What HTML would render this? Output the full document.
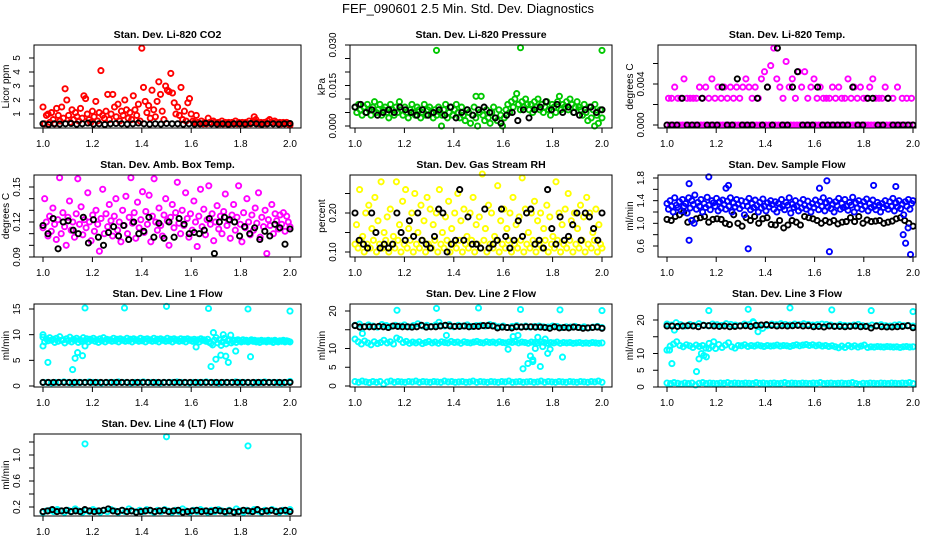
<!DOCTYPE html>
<html><head><meta charset="utf-8">
<style>
html,body{margin:0;padding:0;background:#fff;}
svg{display:block;font-family:"Liberation Sans",Arial,sans-serif;}
</style></head>
<body>
<svg id="chart" width="936" height="540" viewBox="0 0 936 540">
<rect x="0" y="0" width="936" height="540" fill="#fff"/>
<text x="468" y="13" text-anchor="middle" font-size="13">FEF_090601  2.5 Min. Std. Dev. Diagnostics</text>
</svg>
<script>
// ---- shared x axis ----
const xTicks = [1.0,1.2,1.4,1.6,1.8,2.0];
const xTickLabels = ["1.0","1.2","1.4","1.6","1.8","2.0"];

// ---- CO2 ----
const co2Red = [1.5,0.3,0.9,1.0,0.4,1.1,0.6,0.3,1.4,0.9,0.5,1.5,0.7,2.8,2.0,0.9,0.4,1.3,0.6,1.1,0.8,0.5,1.4,0.7,2.3,2.1,1.0,0.6,0.4,1.2,0.8,1.9,0.5,1.1,4.1,0.9,0.7,1.2,2.4,0.6,1.0,2.4,1.5,0.8,1.7,0.5,1.2,0.9,2.0,1.3,0.7,1.1,0.6,2.3,1.3,0.9,1.7,0.5,5.7,2.9,1.9,1.1,1.6,0.7,2.7,1.3,0.8,1.9,3.3,2.4,1.2,0.6,3.0,2.7,2.6,3.9,2.5,1.8,1.0,1.5,0.9,2.9,0.6,1.2,0.5,1.8,2.1,1.0,0.5,0.4,0.9,0.4,0.3,0.5,0.3,0.4,0.3,0.7,0.4,0.3,0.5,0.4,0.3,0.4,0.3,0.5,0.3,0.4,0.3,0.4,0.3,0.4,0.3,0.5,0.3,0.4,0.3,0.4,0.3,0.4,0.3,0.5,0.3,0.4,0.8,0.6,0.4,0.3,0.4,0.3,0.4,0.3,0.5,0.6,0.4,0.3,0.5,0.4,0.3,0.4,0.3,0.4,0.3,0.4,0.3,0.2];
const co2Black = [0.3,0.25,0.3,0.28,0.3,0.32,0.27,0.3,0.35,0.28,0.3,0.25,0.3,0.32,0.3,0.28,0.3,0.35,0.3,0.27,0.3,0.28,0.32,0.3,0.3,0.27,0.3,0.28,0.3,0.33,0.3,0.28,0.3,0.27,0.3,0.3,0.28,0.32,0.3,0.27,0.3,0.3,0.28,0.3,0.32];
const co2Ticks = [1,2,3,4,5];
const co2TickLabels = ["1","2","3","4","5"];

// ---- Pressure ----
const pressGreen = [.007,.005,.008,.006,.004,.007,.005,.008,.006,.004,.007,.009,.005,.006,.008,.004,.006,.007,.005,.003,.008,.006,.004,.007,.005,.009,.006,.004,.007,.005,.003,.006,.008,.005,.004,.007,.006,.003,.005,.008,.004,.006,.007,.005,.003,.006,.004,.007,.005,.004,.006,.008,.003,.005,.007,.004,.006,.008,.005,.003,.007,.004,.002,.006,.005,.001,.004,.007,.003,.000,.005,.011,.004,.002,.006,.003,.001,.005,.007,.003,.002,.006,.004,.000,.003,.006,.008,.005,.009,.007,.010,.012,.008,.006,.009,.007,.010,.008,.006,.008,.005,.009,.007,.010,.006,.008,.005,.007,.009,.006,.004,.008,.007,.005,.009,.011,.006,.008,.007,.009,.006,.010,.008,.005,.007,.009,.007,.006,.004,.008,.005,.002,.007,.003,.006,.008,.004,.001,.006,.003];
const pressOutX = [1.33,1.67,2.0,1.35,1.49,1.97];
const pressOutY = [0.028,0.029,0.028,0.000,0.011,0.000];
const pressBlack = [.007,.008,.005,.006,.004,.005,.006,.005,.007,.006,.005,.004,.006,.004,.005,.006,.004,.007,.003,.005,.006,.004,.006,.007,.005,.003,.001,.004,.005,.002,.006,.003,.006,.007,.009,.006,.008,.005,.007,.005,.004,.006,.007,.005,.006];
const pressTicks = [0,0.005,0.010,0.015,0.020,0.025,0.030];
const pressTickLabels = ["0.000","","","0.015","","","0.030"];

// ---- Li-820 Temp ----
const tempMag = [0,.0026,0,.0026,0,.0037,0,.0026,0,.0026,0,.0045,0,.0026,0,.0026,0,.0026,0,.0026,0,.0037,0,.0026,0,.0037,0,.0026,0,.0045,0,.0026,0,.0037,0,.0026,0,.0037,0,.0026,0,.0037,0,.0026,0,.0037,0,.0026,0,.0037,0,.0045,0,.0037,0,.0026,0,.0037,0,.0026,0,.0045,0,.0052,0,.0037,0,.0058,0,.0075,0,.0045,0,.0037,0,.0026,0,.0062,0,.0037,0,.0045,0,.0026,0,.0052,0,.0037,0,.0052,0,.0026,0,.0037,0,.0045,0,.0026,0,.0037,0,.0026,0,.0026,0,.0026,0,.0037,0,.0026,0,.0037,0,.0026,0,.0026,0,.0045,0,.0026,0,.0037,0,.0026,0,.0037,0,.0026,0,.0026,0,.0037,0,.0045,0,.0026,0,.0026,0,.0026,0,.0037,0,.0026,0,0,.0026,0,0,.0037,0,0,.0026,0,0,.0026,0,0,.0026,0];
const tempBlack = [0,0,0,.0026,0,0,0,.0026,0,0,0,.0037,0,0,.0045,0,0,0,.0026,0,.0037,0,.0075,0,0,.0037,.0052,0,0,0,.0037,0,0,0,0,0,0,.0037,0,0,.0026,.0026,0,0,.0026,0,0,0,0,0];
const tempTicks = [0,0.002,0.004,0.006];
const tempTickLabels = ["0.000","","0.004",""];

// ---- Amb box temp ----
const ambMag = [.115,.14,.12,.108,.125,.112,.132,.118,.105,.122,.158,.11,.128,.116,.1,.124,.138,.113,.12,.107,.127,.157,.118,.133,.109,.122,.115,.145,.12,.104,.126,.112,.13,.118,.095,.123,.148,.11,.127,.116,.135,.121,.108,.125,.14,.113,.12,.103,.13,.117,.142,.11,.124,.158,.119,.128,.106,.137,.115,.122,.146,.111,.129,.118,.143,.103,.125,.157,.12,.113,.132,.117,.108,.126,.14,.121,.1,.124,.135,.115,.128,.154,.119,.11,.13,.117,.145,.123,.107,.127,.113,.138,.12,.099,.125,.148,.116,.131,.109,.122,.151,.118,.127,.104,.12,.134,.114,.125,.11,.129,.144,.117,.121,.106,.126,.135,.113,.124,.151,.118,.103,.128,.115,.14,.12,.109,.126,.113,.132,.119,.145,.107,.124,.116,.13,.093,.122,.117,.135,.11,.127,.121,.114,.126,.118,.128,.112,.125,.12,.116];
const ambBlack = [.117,.11,.123,.097,.12,.121,.113,.11,.124,.102,.122,.107,.1,.111,.116,.108,.117,.105,.12,.11,.112,.124,.107,.119,.106,.12,.107,.123,.118,.11,.111,.11,.113,.123,.093,.12,.124,.122,.12,.108,.116,.11,.115,.105,.112,.108,.118,.115,.101,.114];
const ambTicks = [0.09,0.10,0.11,0.12,0.13,0.14,0.15];
const ambTickLabels = ["0.09","","","0.12","","","0.15"];

// ---- Gas stream RH ----
const rhYellow = [.12,.17,.11,.26,.13,.14,.1,.2,.12,.22,.11,.16,.13,.24,.1,.18,.12,.28,.11,.15,.13,.19,.1,.21,.12,.14,.11,.28,.13,.17,.1,.23,.12,.26,.11,.16,.13,.2,.1,.25,.12,.15,.11,.22,.13,.18,.1,.24,.12,.21,.11,.17,.13,.2,.1,.26,.12,.15,.11,.19,.13,.23,.1,.16,.12,.2,.11,.25,.13,.18,.1,.21,.12,.14,.11,.2,.13,.24,.1,.17,.12,.19,.11,.3,.13,.16,.1,.22,.12,.2,.11,.14,.13,.27,.1,.18,.12,.21,.11,.16,.13,.2,.1,.24,.12,.17,.11,.19,.13,.29,.1,.21,.12,.15,.11,.2,.13,.23,.1,.18,.12,.2,.11,.16,.13,.22,.1,.19,.12,.14,.11,.28,.13,.2,.1,.17,.12,.21,.11,.25,.13,.18,.1,.2,.12,.16,.11,.22,.13,.19,.1,.24,.12,.2,.11,.15,.13,.21,.1,.17,.12,.11];
const rhBlack = [.2,.13,.12,.11,.2,.15,.11,.12,.11,.12,.2,.15,.13,.18,.14,.2,.13,.12,.11,.14,.21,.2,.1,.12,.13,.26,.13,.19,.12,.12,.11,.21,.11,.12,.13,.21,.14,.11,.13,.18,.14,.2,.21,.12,.13,.11,.26,.16,.12,.19,.13,.14,.17,.2,.13,.2,.19,.16,.13,.2];
const rhTicks = [0.10,0.15,0.20,0.25];
const rhTickLabels = ["0.10","","0.20",""];

// ---- Sample flow ----
const sampleBlue = [1.35,1.25,1.4,1.3,1.2,1.45,1.32,1.28,1.38,1.22,1.42,1.3,1.35,1.18,1.45,1.27,1.4,1.33,1.5,1.25,1.37,1.3,1.42,1.2,1.35,1.28,1.46,1.32,1.24,1.4,1.36,1.3,1.44,1.22,1.38,1.27,1.41,1.33,1.25,1.39,1.3,1.45,1.2,1.36,1.29,1.42,1.34,1.26,1.4,1.31,1.15,1.38,1.3,1.44,1.24,1.35,1.28,1.41,1.32,1.2,1.37,1.27,1.43,1.3,1.22,1.36,1.29,1.4,1.33,1.25,1.38,1.2,1.35,1.28,1.42,1.3,1.24,1.37,1.32,1.45,1.18,1.34,1.28,1.4,1.3,1.22,1.36,1.27,1.42,1.32,1.25,1.39,1.3,1.2,1.35,1.28,1.41,1.33,1.24,1.38,1.3,1.45,1.22,1.36,1.29,1.4,1.26,1.34,1.2,1.38,1.31,1.44,1.25,1.35,1.28,1.42,1.3,1.23,1.37,1.32,1.46,1.2,1.36,1.27,1.4,1.33,1.25,1.38,1.3,1.43,1.22,1.35,1.28,1.41,1.3,1.24,1.37,1.32,1.2,1.35,1.28,1.4,1.31,1.25,1.38,1.3,1.44,1.22,1.36,1.29,1.4,1.26,1.34,1.15,1.38,1.3,1.42,1.25,1.35,1.4];
const sampleOutX = [1.09,1.09,1.1,1.17,1.24,1.25,1.33,1.62,1.65,1.66,1.84,1.93,1.96,1.97,1.98,1.99,1.11];
const sampleOutY = [1.7,0.7,1.05,1.82,1.62,1.67,0.55,1.62,1.75,0.5,1.67,1.65,0.8,0.65,0.92,0.45,1.0];
const sampleBlack = [1.07,1.05,1.12,1.15,1.2,1.02,1.05,1.08,1.1,1.12,1.02,1.07,1.08,1.07,1.0,0.98,1.15,1.0,0.95,1.1,1.05,1.12,1.0,1.08,1.1,0.98,0.97,1.05,0.92,0.97,1.05,1.02,0.97,1.12,1.1,1.08,1.05,1.0,1.05,1.02,1.05,0.99,1.02,1.03,1.1,1.03,1.12,1.0,1.06,1.03,1.04,1.05,1.0,1.02,1.04,1.08,1.1,1.05,1.0,0.95];
const sampleTicks = [0.6,0.8,1.0,1.2,1.4,1.6,1.8];
const sampleTickLabels = ["0.6","","1.0","","1.4","","1.8"];

// ---- Line 1 ----
const line1Main = [9.5,8.6,9.2,8.8,9.4,8.9,9.1,8.5,9.3,8.7,9.6,8.9,9.0,8.4,9.2,8.8,9.5,8.6,9.1,8.9,9.3,8.5,9.0,8.7,9.4,8.8,9.2,8.6,9.1,8.9,9.3,8.7,9.0,8.5,9.2,8.8,9.4,8.6,9.1,8.9,9.0,8.7,9.3,8.8,9.1,8.6,9.2,8.9,9.0,8.7,9.3,8.8,9.1,8.6,9.2,8.9,9.0,8.7,9.3,8.8,9.1,8.6,9.2,8.9,9.0,8.7,9.3,8.8,9.1,8.6,9.2,8.9,9.0,8.7,9.3,8.8,9.1,8.6,9.2,8.9,9.0,8.7,9.2,8.8,9.1,8.6,9.2,8.9,9.0,8.7,9.1,8.8,9.0,8.6,9.2,8.9,9.0,8.7,9.1,8.5,8.3,8.0,8.9,9.4,8.4,9.0,7.9,8.6,9.3,8.2,8.8,9.0,8.4,8.7,8.9,8.5,9.0,8.8,8.6,9.0,8.7,8.9,8.6,8.8,9.0,8.7,8.9,8.6,8.8,8.5,8.9,8.7,8.8,8.6,8.9,8.7,8.8,8.5,8.9,8.7,8.6,8.8,8.7,8.9,8.6,8.8,8.7,8.6];
const line1Low = [0.7,0.7,0.6,0.7,0.7,0.8,0.7,0.6,0.7,0.7,0.7,0.8,0.7,0.7,0.6,0.7,0.7,0.7,0.8,0.7,0.7,0.6,0.7,0.7,0.8,0.7,0.7,0.7,0.6,0.7,0.7,0.7,0.8,0.7,0.7,0.6,0.7,0.7,0.7,0.8,0.7,0.7,0.6,0.7,0.7,0.7,0.8,0.7,0.7,0.7,0.6,0.7,0.7,0.8,0.7,0.7,0.7,0.6,0.7,0.9];
const line1OutX = [1.0,1.0,1.02,1.12,1.13,1.14,1.16,1.17,1.17,1.33,1.5,1.67,1.83,2.0,1.68,1.7,1.72,1.74,1.75,1.84,1.62,1.78,1.73,1.76,1.69];
const line1OutY = [10,7.8,4.6,3.2,5.4,6.5,5.9,15.2,7.8,15.2,15.5,15.1,15,14.6,3.8,5.2,6,5.8,4.6,5.7,7.6,6.8,10,9.9,10.4];
const line1Black = [0.7,0.7,0.7,0.7,0.7,0.7,0.7,0.7,0.7,0.7,0.7,0.7,0.7,0.7,0.7,0.7,0.7,0.7,0.7,0.7,0.7,0.7,0.7,0.7,0.7,0.7,0.7,0.7,0.7,0.7,0.7,0.7,0.7,0.7,0.7,0.7,0.7,0.7,0.7,0.7,0.7,0.7,0.7,0.7,0.7,0.7,0.7,0.7];
const line1Ticks = [0,5,10,15];
const line1TickLabels = ["0","5","10","15"];

// ---- Line 2 ----
const line2Top = [16.2,16.5,15.8,16.3,16.0,15.7,16.4,16.1,15.9,16.2,16.0,16.3,15.8,16.1,16.6,16.0,16.2,15.9,16.3,16.1,16.0,16.4,15.8,16.2,16.0,16.3,15.9,16.1,16.2,16.0,16.4,16.1,15.8,16.0,15.6,15.9,16.1,15.8,16.0,15.7,15.9,16.0,15.8,15.7,16.0,15.9,15.6,15.8,15.7,15.9,15.6,15.8,15.5,15.7,15.9,15.6];
const line2Mid = [12.5,11.8,11.2,12.0,11.5,11.0,11.8,11.3,11.6,12.2,11.5,11.8,11.2,12.8,12.4,11.6,11.9,11.4,11.7,11.5,11.8,11.3,11.6,11.9,11.5,11.7,11.4,11.8,11.6,11.5,11.9,11.6,11.7,11.4,11.8,11.6,11.5,11.7,11.9,11.6,11.5,11.8,11.6,11.7,11.5,11.8,11.6,11.5,11.7,11.6,11.8,11.5,11.7,11.6,11.4,11.7,11.6,11.5,11.7,11.6,11.4,11.6,11.5,11.7,11.4,11.6,11.5,11.6,11.4,11.5,11.6,11.4,11.5,11.4,11.6,11.5,11.4,11.5];
const line2Low = [1.2,1.0,1.3,1.1,0.9,1.2,1.0,1.2,0.5,1.1,1.3,1.0,1.2,1.1,1.0,1.2,1.1,1.3,1.0,1.2,1.1,1.0,1.2,1.1,1.0,1.3,1.1,1.2,1.0,1.1,1.2,1.0,1.1,1.3,1.0,1.2,1.1,1.0,1.2,1.1,1.0,1.2,1.1,1.3,1.0,1.1,1.2,1.0,1.1,1.2,1.0,1.1,1.3,1.0,1.2,1.1,1.0,1.2,1.1,1.0,1.2,1.1,1.0,1.2,1.1,1.0,1.2,1.1,1.3,1.0];
const line2OutX = [1.17,1.33,1.5,1.67,1.83,2.0,1.03,1.34,1.37,1.62,1.64,1.68,1.7,1.71,1.72,1.73,1.74,1.75,1.76,1.77,1.78,1.84,1.66,1.72,1.79];
const line2OutY = [20.2,20.7,20.8,20.4,20.3,20.1,14,17,13.5,9.8,13.2,4.6,6,8,7,10,13,5.2,10.5,12.5,8.7,7.7,13.5,6.5,9.8];
const line2Black = [16.1,15.7,15.8,15.8,15.8,15.9,15.8,15.6,16.0,15.9,15.8,15.8,15.7,15.8,16.2,15.7,15.8,15.8,16.0,16.2,16.0,15.9,15.9,16.0,15.8,15.9,15.9,16.1,16.1,16.0,15.5,15.7,15.6,15.5,15.8,15.7,15.8,15.8,15.7,15.7,15.6,15.4,15.8,15.5,15.6,15.5,15.7,15.6,15.4,15.5,15.6,15.7,15.4];
const line2Ticks = [0,5,10,15,20];
const line2TickLabels = ["0","5","10","","20"];

// ---- Line 3 ----
const line3Top = [18.8,18.5,19.2,18.6,18.2,18.7,18.4,18.9,18.5,18.3,18.8,18.6,18.4,18.9,18.7,18.5,18.3,18.8,18.6,19.2,18.4,17.5,18.3,18.8,18.6,18.9,18.7,18.5,18.8,18.6,18.9,18.7,18.5,18.6,18.8,18.7,18.5,18.2,18.6,18.4,18.3,18.5,18.7,18.3,18.2,18.5,18.4,18.6,18.3,18.2,18.5,18.6,18.3,18.4,18.2];
const line3Mid = [11,12.2,12.8,13.5,12.4,12.0,12.6,12.3,11.8,12.5,12.1,12.4,11.6,13.0,12.2,11.5,12.7,11.8,12.5,13.2,12.0,11.6,12.4,12.3,12.6,12.1,12.4,12.2,12.5,12.3,12.1,12.4,12.2,12.3,12.5,12.2,12.4,12.3,12.1,12.4,12.6,12.3,12.5,12.7,12.4,12.6,12.3,12.5,12.2,12.4,12.1,12.3,12.0,11.7,12.2,11.8,12.4,12.0,12.3,11.9,12.2,12.5,11.8,12.0,11.9,12.1,12.0,11.9,12.1,12.0,11.9,12.0,11.8,12.0,12.1,11.9,12.0];
const line3Low = [1.2,1.0,1.3,1.1,0.9,1.2,1.0,1.2,0.6,1.1,1.3,1.0,1.2,1.1,1.0,1.2,1.1,1.3,1.0,1.2,1.1,1.0,1.2,1.1,1.0,1.3,1.1,1.2,1.0,1.1,1.2,1.0,1.1,1.3,1.0,1.2,1.1,1.0,1.2,1.1,1.0,1.2,1.1,1.3,1.0,1.1,1.2,1.0,1.1,1.2,1.0,1.1,1.3,1.0,0.8,1.1,1.0,1.2,1.1,1.0,1.2,1.1,1.0,1.2,1.1,1.0,1.2,1.1,1.3,1.0];
const line3OutX = [1.17,1.33,1.5,1.67,1.83,2.0,1.01,1.02,1.12,1.13,1.14,1.15,1.16,1.17,1.19,1.35,1.37,1.03];
const line3OutY = [22.8,23.2,23.6,23,22.8,22.5,11,7,4.6,8.4,10,9.4,9,11.5,13.5,19.5,16.5,17];
const line3Black = [18.2,18.2,18.1,18.2,18.3,18.2,18.0,18.4,18.3,18.2,18.1,18.2,18.0,18.1,18.2,18.3,18.1,18.4,18.5,18.6,18.4,18.2,18.3,18.2,18.3,18.4,18.2,18.3,18.0,18.1,17.9,18.2,18.1,18.1,18.0,18.1,18.2,18.0,18.1,17.6,18.2,18.0,17.9,17.9,18.0,18.1,18.3,17.7];
const line3Ticks = [0,5,10,15,20];
const line3TickLabels = ["0","5","10","","20"];

// ---- Line 4 ----
const line4Cyan = [0.12,0.14,0.15,0.13,0.16,0.14,0.12,0.15,0.13,0.17,0.14,0.12,0.15,0.13,0.16,0.14,0.12,0.15,0.13,0.16,0.14,0.12,0.15,0.13,0.17,0.14,0.12,0.15,0.13,0.16,0.14,0.12,0.15,0.13,0.16,0.14,0.12,0.15,0.13,0.17,0.14,0.12,0.15,0.13,0.16,0.14,0.12,0.15,0.13,0.16,0.14,0.12,0.15,0.13,0.17,0.14,0.12,0.15,0.13,0.16,0.14,0.12,0.15,0.13,0.16,0.14,0.12,0.15,0.13,0.16];
const line4OutX = [1.17,1.5,1.83];
const line4OutY = [1.17,1.28,1.14];
const line4Black = [0.13,0.14,0.16,0.13,0.14,0.15,0.13,0.14,0.13,0.16,0.14,0.13,0.14,0.15,0.17,0.14,0.13,0.15,0.13,0.14,0.12,0.13,0.14,0.15,0.13,0.14,0.15,0.13,0.14,0.15,0.12,0.13,0.14,0.15,0.13,0.14,0.13,0.15,0.14,0.13,0.14,0.12,0.13,0.15,0.14,0.13,0.16,0.13,0.14,0.15,0.13,0.14,0.15,0.13];
const line4Ticks = [0.2,0.4,0.6,0.8,1.0,1.2];
const line4TickLabels = ["0.2","","0.6","","1.0",""];

const NS = "http://www.w3.org/2000/svg";
const svg = document.getElementById("chart");
const C = {red:"#ff0000", blk:"#000000", grn:"#00c800", mag:"#ff00ff", yel:"#ffff00", blu:"#0000ff", cyn:"#00ffff"};

const panels = [
 {name:"co2", title:"Stan. Dev. Li-820 CO2", ylab:"Licor ppm", box:[34,45,301,128], xp:[43,290], yv:[1,5], yp:[114,58], ticks:co2Ticks, tl:co2TickLabels,
  series:[{v:co2Red,c:C.red,n:"co2-point"},{v:co2Black,c:C.blk,n:"co2-ref-point"}]},
 {name:"pressure", title:"Stan. Dev. Li-820 Pressure", ylab:"kPa", box:[350,45,612,128], xp:[355,602], yv:[0,0.03], yp:[126,45], ticks:pressTicks, tl:pressTickLabels,
  series:[{v:pressGreen,c:C.grn,n:"pressure-point"},{x:pressOutX,y:pressOutY,c:C.grn,n:"pressure-outlier"},{v:pressBlack,c:C.blk,n:"pressure-ref-point"}]},
 {name:"temp", title:"Stan. Dev. Li-820 Temp.", ylab:"degrees C", box:[658,45,916,128], xp:[667,913], yv:[0,0.004], yp:[125,84], ticks:tempTicks, tl:tempTickLabels,
  series:[{v:tempMag,c:C.mag,n:"temp-point"},{v:tempBlack,c:C.blk,n:"temp-ref-point"}]},
 {name:"amb", title:"Stan. Dev. Amb. Box Temp.", ylab:"degrees C", box:[34,175,301,257], xp:[43,290], yv:[0.09,0.15], yp:[257,187], ticks:ambTicks, tl:ambTickLabels,
  series:[{v:ambMag,c:C.mag,n:"amb-point"},{v:ambBlack,c:C.blk,n:"amb-ref-point"}]},
 {name:"rh", title:"Stan. Dev. Gas Stream RH", ylab:"percent", box:[350,175,612,257], xp:[355,602], yv:[0.10,0.20], yp:[252,213], ticks:rhTicks, tl:rhTickLabels,
  series:[{v:rhYellow,c:C.yel,n:"rh-point"},{v:rhBlack,c:C.blk,n:"rh-ref-point"}]},
 {name:"sample", title:"Stan. Dev. Sample Flow", ylab:"ml/min", box:[658,175,916,257], xp:[667,913], yv:[0.6,1.8], yp:[246,178], ticks:sampleTicks, tl:sampleTickLabels,
  series:[{v:sampleBlack,c:C.blk,n:"sample-ref-point"},{v:sampleBlue,c:C.blu,n:"sample-point"},{x:sampleOutX,y:sampleOutY,c:C.blu,n:"sample-outlier"}]},
 {name:"line1", title:"Stan. Dev. Line 1 Flow", ylab:"ml/min", box:[34,304,301,387], xp:[43,290], yv:[0,15], yp:[386,309], ticks:line1Ticks, tl:line1TickLabels,
  series:[{v:line1Main,c:C.cyn,n:"line1-point"},{v:line1Low,c:C.cyn,n:"line1-low-point"},{x:line1OutX,y:line1OutY,c:C.cyn,n:"line1-outlier"},{v:line1Black,c:C.blk,n:"line1-ref-point"}]},
 {name:"line2", title:"Stan. Dev. Line 2 Flow", ylab:"ml/min", box:[350,304,612,387], xp:[355,602], yv:[0,20], yp:[386,311], ticks:line2Ticks, tl:line2TickLabels,
  series:[{v:line2Top,c:C.cyn,n:"line2-top-point"},{v:line2Mid,c:C.cyn,n:"line2-mid-point"},{v:line2Low,c:C.cyn,n:"line2-low-point"},{x:line2OutX,y:line2OutY,c:C.cyn,n:"line2-outlier"},{v:line2Black,c:C.blk,n:"line2-ref-point"}]},
 {name:"line3", title:"Stan. Dev. Line 3 Flow", ylab:"ml/min", box:[658,304,916,387], xp:[667,913], yv:[0,20], yp:[387,320], ticks:line3Ticks, tl:line3TickLabels,
  series:[{v:line3Top,c:C.cyn,n:"line3-top-point"},{v:line3Mid,c:C.cyn,n:"line3-mid-point"},{v:line3Low,c:C.cyn,n:"line3-low-point"},{x:line3OutX,y:line3OutY,c:C.cyn,n:"line3-outlier"},{v:line3Black,c:C.blk,n:"line3-ref-point"}]},
 {name:"line4", title:"Stan. Dev. Line 4 (LT) Flow", ylab:"ml/min", box:[34,434,301,516], xp:[43,290], yv:[0.2,1.0], yp:[507,455], ticks:line4Ticks, tl:line4TickLabels,
  series:[{v:line4Cyan,c:C.cyn,n:"line4-point"},{x:line4OutX,y:line4OutY,c:C.cyn,n:"line4-outlier"},{v:line4Black,c:C.blk,n:"line4-ref-point"}]}
];

function mk(tag, attrs, parent){
  const e = document.createElementNS(NS, tag);
  for (const k in attrs) e.setAttribute(k, attrs[k]);
  parent.appendChild(e);
  return e;
}

panels.forEach(p => {
  const g = mk("g", {}, svg);
  
  
  const [L,T,R,B] = p.box;
  const xs = v => p.xp[0] + (v - 1) * (p.xp[1] - p.xp[0]);
  const ys = v => p.yp[0] + (v - p.yv[0]) * (p.yp[1] - p.yp[0]) / (p.yv[1] - p.yv[0]);

  const pg = mk("g", {fill:"none", "stroke-width":"1.9"}, g);
  
  
  p.series.forEach(s => {
    const n = s.v ? s.v.length : s.x.length;
    for (let i = 0; i < n; i++) {
      const xv = s.v ? 1 + i / (n - 1) : s.x[i];
      const yv = s.v ? s.v[i] : s.y[i];
      const c = mk("circle", {cx:xs(xv).toFixed(1), cy:ys(yv).toFixed(1), r:"2.6", stroke:s.c}, pg);
      
      
    }
  });

  const fr = mk("rect", {x:L, y:T, width:R-L, height:B-T, fill:"none", stroke:"#000", "stroke-width":"1"}, g);
  
  

  const tt = mk("text", {x:(L+R)/2, y:T-7, "text-anchor":"middle", "font-size":"10.5", "font-weight":"bold"}, g);
  tt.textContent = p.title;
  
  

  xTicks.forEach((v, i) => {
    const x = xs(v);
    const tk = mk("line", {x1:x, x2:x, y1:B, y2:B+5, stroke:"#000"}, g);
    
    
    const lb = mk("text", {x:x, y:B+19, "text-anchor":"middle", "font-size":"10"}, g);
    lb.textContent = xTickLabels[i];
    
    
  });
  const xa = mk("line", {x1:xs(1), x2:xs(2), y1:B, y2:B, stroke:"#000"}, g);
  
  

  const y0 = ys(p.ticks[0]), y1 = ys(p.ticks[p.ticks.length-1]);
  const ya = mk("line", {x1:L, x2:L, y1:y0, y2:y1, stroke:"#000"}, g);
  
  
  p.ticks.forEach((v, i) => {
    const y = ys(v);
    const tk = mk("line", {x1:L-5, x2:L, y1:y, y2:y, stroke:"#000"}, g);
    
    
    if (p.tl[i]) {
      const lb = mk("text", {x:L-14, y:y, "text-anchor":"middle", "font-size":"10", transform:`rotate(-90 ${L-14} ${y})`}, g);
      lb.textContent = p.tl[i];
      
      
    }
  });
  const yl = mk("text", {x:L-25, y:(T+B)/2, "text-anchor":"middle", "font-size":"10", transform:`rotate(-90 ${L-25} ${(T+B)/2})`}, g);
  yl.textContent = p.ylab;
  
  
});
</script>
</body></html>
